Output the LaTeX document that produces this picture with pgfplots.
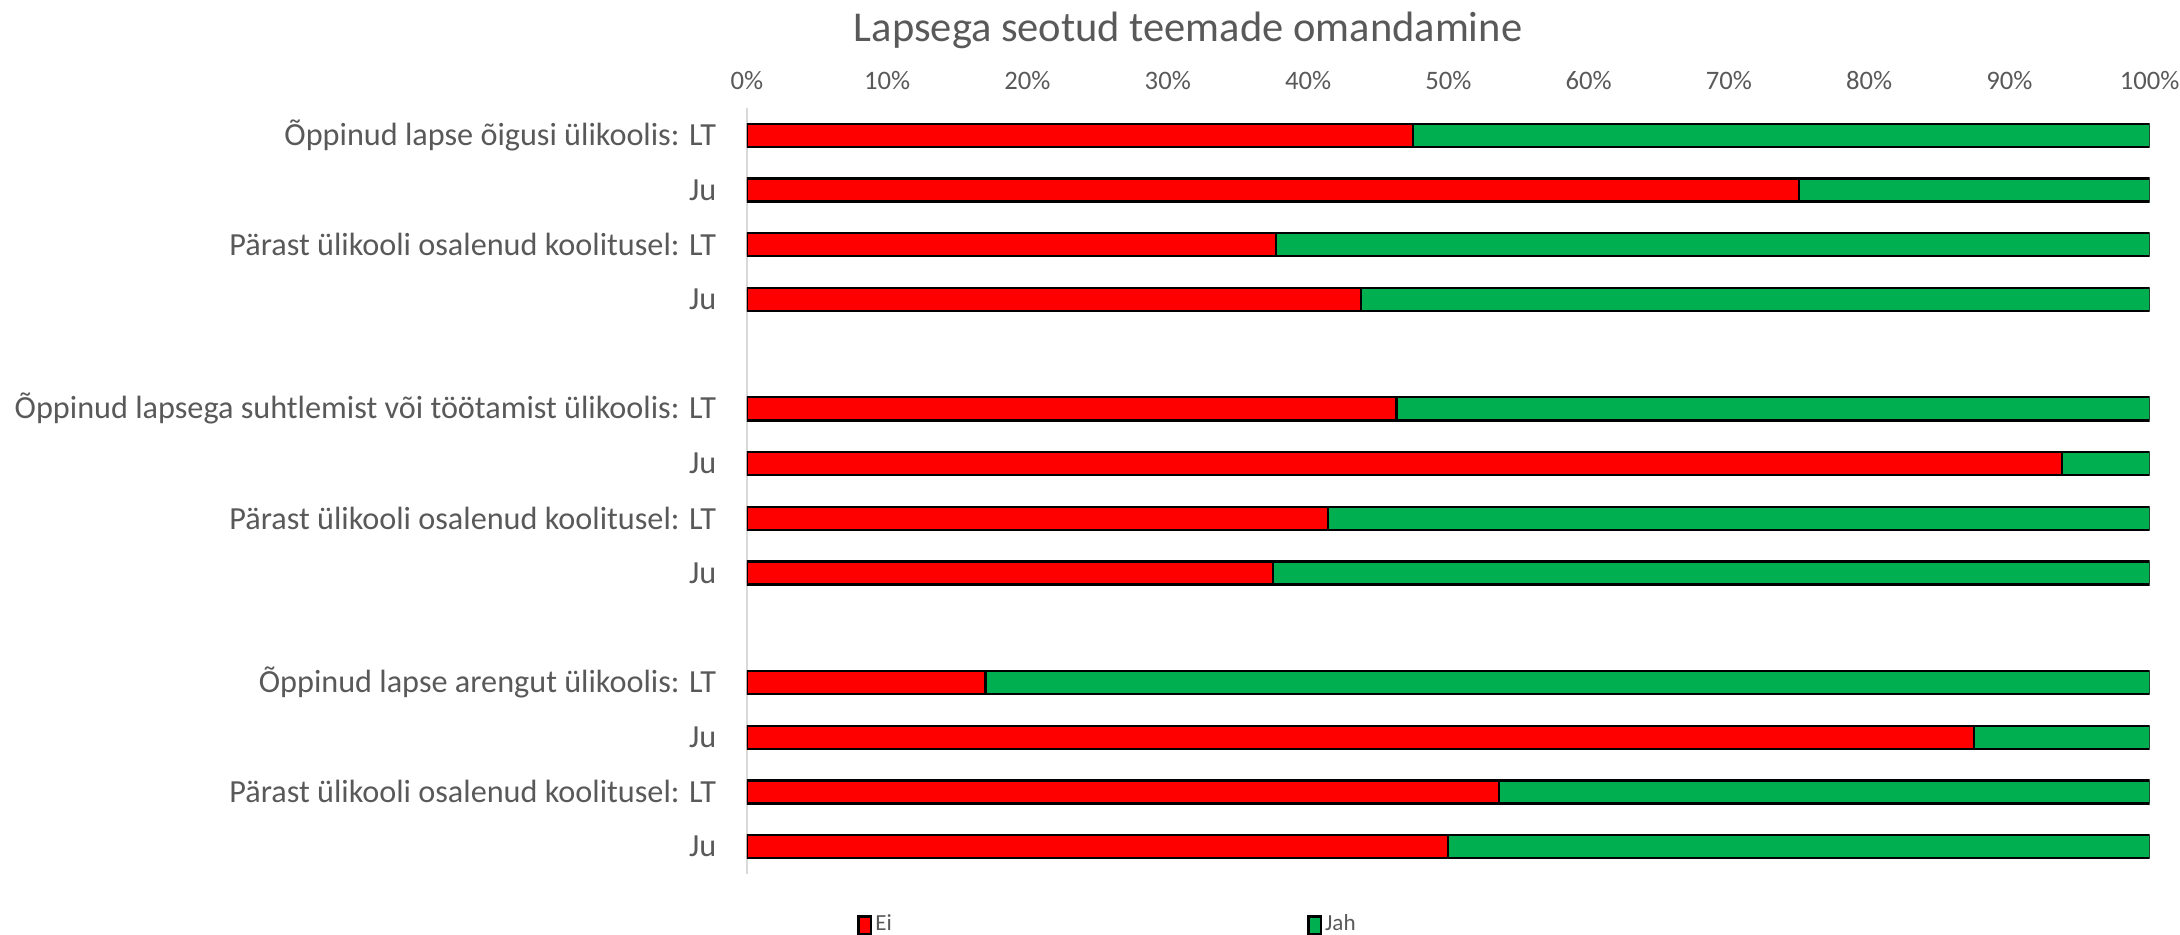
\documentclass[border=0pt]{standalone}
\usepackage{pgfplots}
\pgfplotsset{compat=1.18}
\usepackage{pgfplotstable}
\usepackage{fontspec}
\setmainfont{Carlito}
\definecolor{txt}{RGB}{89,89,89}
\definecolor{eired}{RGB}{255,0,0}
\definecolor{jahgreen}{RGB}{0,176,80}
\definecolor{axgray}{RGB}{217,217,217}

\pgfplotstableread{
pos ei jah
0 47.5 52.5
1 75.0 25.0
2 37.7 62.3
3 43.75 56.25
5 46.3 53.7
6 93.75 6.25
7 41.4 58.6
8 37.5 62.5
10 17.0 83.0
11 87.5 12.5
12 53.6 46.4
13 50.0 50.0
}\data

\pgfplotsset{mylegend/.style={legend image code/.code={\draw[##1, line width=0.8pt] (0pt,-3.1pt) rectangle (4.6pt,3.1pt);}}}

\begin{document}
\begin{tikzpicture}[x=1pt,y=1pt]
\useasboundingbox (0,0) rectangle (784.8,336.6);
\node[anchor=base, text=txt, font=\fontsize{15.3}{18}\selectfont] at (427.7,321.5) {Lapsega seotud teemade omandamine};
\begin{axis}[
  at={(268.9pt,21.96pt)}, anchor=south west,
  width=505pt, height=275.8pt, scale only axis,
  xbar stacked, bar width=8.3pt,
  xmin=0, xmax=100, ymin=-0.5, ymax=13.5, y dir=reverse,
  axis x line*=top, axis y line*=left,
  x axis line style={draw=none},
  y axis line style={draw=axgray, line width=0.7pt},
  xtick={0,10,...,100},
  xticklabel={\pgfmathprintnumber{\tick}\%},
  /pgf/number format/assume math mode=true,
  xticklabel style={text=txt, font=\fontsize{9.6}{11}\selectfont, yshift=3pt},
  ytick={0,1,2,3,5,6,7,8,10,11,12,13},
  yticklabels={{Õppinud lapse õigusi ülikoolis: LT},Ju,{Pärast ülikooli osalenud koolitusel: LT},Ju,
    {Õppinud lapsega suhtlemist või töötamist ülikoolis: LT},Ju,{Pärast ülikooli osalenud koolitusel: LT},Ju,
    {Õppinud lapse arengut ülikoolis: LT},Ju,{Pärast ülikooli osalenud koolitusel: LT},Ju},
  yticklabel style={text=txt, font=\fontsize{11.6}{14}\selectfont, xshift=-7.5pt},
  major tick length=0pt,
  legend columns=2,
  legend style={at={(0.0784,-0.0666)}, anchor=west, draw=none, fill=none,
    font=\fontsize{8.3}{9}\selectfont, text=txt, inner sep=0pt,
    nodes={inner sep=1pt},
    /tikz/every even column/.append style={column sep=148.6pt}},
]
\addplot[fill=eired, draw=black, line width=0.8pt, mylegend] table[x=ei, y=pos] {\data};
\addplot[fill=jahgreen, draw=black, line width=0.8pt, mylegend] table[x=jah, y=pos] {\data};
\legend{Ei,Jah}
\end{axis}
\end{tikzpicture}
\end{document}
